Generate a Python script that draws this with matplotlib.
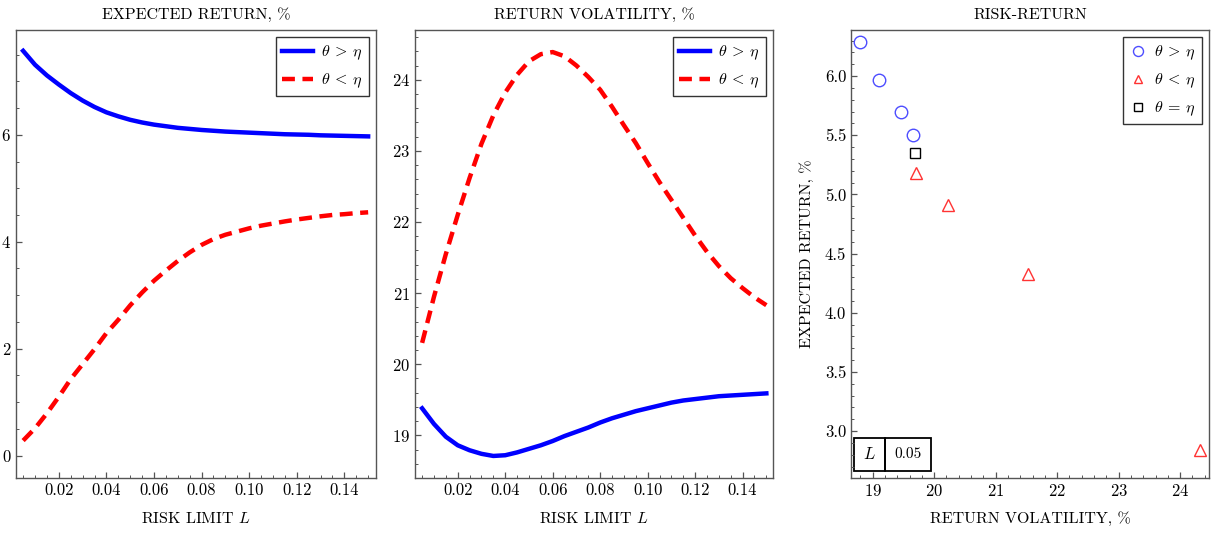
import numpy as np
import matplotlib
matplotlib.use("Agg")
import matplotlib.pyplot as plt
from matplotlib.ticker import MultipleLocator, FormatStrFormatter
from matplotlib.patches import Rectangle

plt.rcParams['font.family'] = ['cmr10', 'DejaVu Serif']
plt.rcParams['mathtext.fontset'] = 'cm'
plt.rcParams['axes.unicode_minus'] = False
plt.rcParams['axes.formatter.use_mathtext'] = True

# risk limit grid
risk_limit = [0.005, 0.010, 0.015, 0.020, 0.025, 0.030, 0.035, 0.040, 0.045, 0.050,
              0.055, 0.060, 0.065, 0.070, 0.075, 0.080, 0.085, 0.090, 0.095, 0.100,
              0.105, 0.110, 0.115, 0.120, 0.125, 0.130, 0.135, 0.140, 0.145, 0.150]

# expected return, %
ret_high = [7.57, 7.31, 7.11, 6.94, 6.78, 6.64, 6.52, 6.42, 6.345, 6.28,
            6.23, 6.19, 6.16, 6.13, 6.11, 6.09, 6.075, 6.06, 6.05, 6.04,
            6.03, 6.02, 6.01, 6.005, 6.00, 5.99, 5.985, 5.98, 5.975, 5.97]
ret_low = [0.28, 0.51, 0.79, 1.10, 1.43, 1.71, 1.99, 2.29, 2.54, 2.81,
           3.05, 3.27, 3.46, 3.64, 3.80, 3.94, 4.05, 4.13, 4.19, 4.25,
           4.30, 4.34, 4.38, 4.415, 4.445, 4.475, 4.50, 4.515, 4.535, 4.55]

# return volatility, %
vol_high = [19.38, 19.16, 18.98, 18.86, 18.79, 18.74, 18.71, 18.72, 18.76, 18.81,
            18.86, 18.92, 18.99, 19.05, 19.11, 19.18, 19.24, 19.29, 19.34, 19.38,
            19.42, 19.46, 19.49, 19.51, 19.53, 19.55, 19.56, 19.57, 19.58, 19.59]
vol_low = [20.30, 20.95, 21.55, 22.10, 22.62, 23.10, 23.50, 23.82, 24.07, 24.26,
           24.36, 24.39, 24.33, 24.20, 24.04, 23.86, 23.62, 23.36, 23.11, 22.83,
           22.56, 22.31, 22.06, 21.81, 21.58, 21.38, 21.21, 21.07, 20.94, 20.83]

# risk-return points
rr_high_vol = [18.80, 19.10, 19.46, 19.66]
rr_high_ret = [6.29, 5.97, 5.70, 5.50]
rr_low_vol = [19.70, 20.22, 21.52, 24.32]
rr_low_ret = [5.18, 4.91, 4.33, 2.84]
rr_eq_vol = [19.68]
rr_eq_ret = [5.35]
L_value = "0.05"

lab_gt = r'$\theta\:>\:\eta$'
lab_lt = r'$\theta\:<\:\eta$'
lab_eq = r'$\theta\:=\:\eta$'

frame_col = '#555555'
fig = plt.figure(figsize=(12.13, 5.33), dpi=100)
W, H = 1213, 533
ax1 = fig.add_axes([16 / W, 55 / H, 360 / W, 448 / H])
ax2 = fig.add_axes([415 / W, 55 / H, 358 / W, 448 / H])
ax3 = fig.add_axes([851 / W, 55 / H, 358 / W, 448 / H])


def style(ax):
    for s in ax.spines.values():
        s.set_color(frame_col)
        s.set_linewidth(1.0)
    ax.tick_params(which='both', direction='in', top=False, right=False,
                   color=frame_col, labelsize=12)
    ax.tick_params(which='major', length=4.5, width=0.9)
    ax.tick_params(which='minor', length=2.5, width=0.7)


def legend(ax, **kw):
    return ax.legend(loc='upper right', fontsize=11.5, fancybox=False, edgecolor='#333333',
                     framealpha=1, borderaxespad=0.45, labelspacing=0.6,
                     handletextpad=0.5, **kw)


blue = '#0000ff'
red = '#ff0000'
lw = 3.2
dash = (2.9, 1.7)
line_kw = dict(solid_joinstyle='round', dash_joinstyle='round')

# panel 1
ax1.plot(risk_limit, ret_high, color=blue, lw=lw, label=lab_gt, **line_kw)
ax1.plot(risk_limit, ret_low, color=red, lw=lw, dashes=dash, label=lab_lt, **line_kw)
ax1.set_xlim(0.002, 0.1533)
ax1.set_ylim(-0.42, 7.96)
ax1.xaxis.set_major_locator(MultipleLocator(0.02))
ax1.xaxis.set_minor_locator(MultipleLocator(0.005))
ax1.xaxis.set_major_formatter(FormatStrFormatter('%.2f'))
ax1.yaxis.set_major_locator(MultipleLocator(2))
ax1.yaxis.set_minor_locator(MultipleLocator(0.5))
ax1.set_title('EXPECTED RETURN, %', fontsize=11.5, pad=8)
ax1.set_xlabel(r'RISK LIMIT $L$', fontsize=11.5, labelpad=9)
style(ax1)
legend(ax1, handlelength=1.9)

# panel 2
ax2.plot(risk_limit, vol_high, color=blue, lw=lw, label=lab_gt, **line_kw)
ax2.plot(risk_limit, vol_low, color=red, lw=lw, dashes=dash, label=lab_lt, **line_kw)
ax2.set_xlim(0.002, 0.1528)
ax2.set_ylim(18.40, 24.70)
ax2.xaxis.set_major_locator(MultipleLocator(0.02))
ax2.xaxis.set_minor_locator(MultipleLocator(0.005))
ax2.xaxis.set_major_formatter(FormatStrFormatter('%.2f'))
ax2.yaxis.set_major_locator(MultipleLocator(1))
ax2.yaxis.set_minor_locator(MultipleLocator(0.2))
ax2.set_title('RETURN VOLATILITY, %', fontsize=11.5, pad=8)
ax2.set_xlabel(r'RISK LIMIT $L$', fontsize=11.5, labelpad=9)
style(ax2)
legend(ax2, handlelength=1.9)

# panel 3
ax3.plot(rr_high_vol, rr_high_ret, 'o', ms=9, mfc='none', mec='#4d4dff', mew=1.0, label=lab_gt)
ax3.plot(rr_low_vol, rr_low_ret, '^', ms=8, mfc='none', mec='#ff3333', mew=1.0, label=lab_lt)
ax3.plot(rr_eq_vol, rr_eq_ret, 's', ms=7, mfc='none', mec='black', mew=1.0, label=lab_eq)
ax3.set_xlim(18.647, 24.47)
ax3.set_ylim(2.603, 6.389)
ax3.xaxis.set_major_locator(MultipleLocator(1))
ax3.xaxis.set_minor_locator(MultipleLocator(0.2))
ax3.yaxis.set_major_locator(MultipleLocator(0.5))
ax3.yaxis.set_minor_locator(MultipleLocator(0.1))
ax3.yaxis.set_major_formatter(FormatStrFormatter('%.1f'))
ax3.set_title('RISK-RETURN', fontsize=11.5, pad=8)
ax3.set_xlabel('RETURN VOLATILITY, %', fontsize=11.5, labelpad=9)
ax3.set_ylabel('EXPECTED RETURN, %', fontsize=11.5, labelpad=8)
style(ax3)
legend(ax3, handlelength=1.0, markerscale=0.8)

# small L table in lower left
ax3.add_patch(Rectangle((0.0084, 0.0156), 0.0866, 0.0737, transform=ax3.transAxes,
                        fill=False, ec='black', lw=1.3))
ax3.add_patch(Rectangle((0.095, 0.0156), 0.1285, 0.0737, transform=ax3.transAxes,
                        fill=False, ec='black', lw=1.3))
ax3.text(0.0517, 0.0525, r'$L$', transform=ax3.transAxes, ha='center', va='center', fontsize=12)
ax3.text(0.1593, 0.0525, L_value, transform=ax3.transAxes, ha='center', va='center', fontsize=11)

fig.savefig('out.png', dpi=100)
